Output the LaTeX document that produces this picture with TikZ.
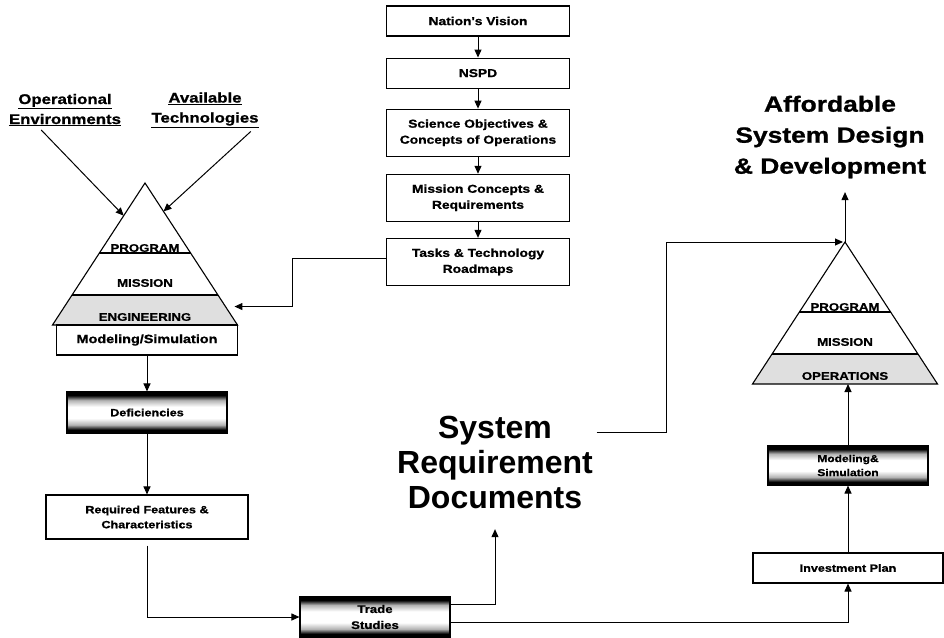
\documentclass[tikz,border=0pt]{standalone}
\usepackage{fontspec}
\setmainfont{Liberation Sans}
\newfontfamily\boxfont[FakeStretch=1.2,FakeBold=1]{Liberation Sans}
\usetikzlibrary{positioning,arrows.meta,calc}

\pgfdeclareverticalshading{tube}{100bp}{color(0bp)=(black); color(29bp)=(black); color(35bp)=(gray!60); color(43bp)=(white); color(57bp)=(white); color(65bp)=(gray!60); color(71bp)=(black); color(100bp)=(black)}

\begin{document}
\begin{tikzpicture}[x=1pt,y=-1pt,>={Triangle[length=8pt,width=7pt]},line width=1pt,node distance=17pt,
    box/.style={draw,line width=1.1pt,fill=white,align=center,inner sep=2pt,font=\boxfont\bfseries\fontsize{11.5}{16}\selectfont},
    tube/.style={box,shade,shading=tube},
    band/.style={font=\boxfont\bfseries\fontsize{11}{13}\selectfont},
    head/.style={align=center,font=\boxfont\bfseries\fontsize{14}{20}\selectfont}]
    \useasboundingbox (0,0) rectangle (944,637);

    % the two pyramids
    \coordinate (lptop) at (145,183);
    \coordinate (lpbl) at (52.5,325);
    \coordinate (lpbr) at (237.5,325);
    \coordinate (rptop) at (845,242);
    \coordinate (rpbl) at (752.5,384);
    \coordinate (rpbr) at (937.5,384);
    \foreach \px/\py/\base in {145/183/ENGINEERING, 845/242/OPERATIONS}{
        \begin{scope}[shift={(\px,\py)}]
            \fill[gray!25] (-73,112) -- (73,112) -- (92.5,142) -- (-92.5,142) -- cycle;
            \draw[line width=1.1pt] (0,0) -- (92.5,142) -- (-92.5,142) -- cycle;
            \draw[line width=1.1pt] (-45.6,70) -- (45.6,70) (-73,112) -- (73,112);
            \node[band] at (0,65) {PROGRAM};
            \node[band] at (0,100) {MISSION};
            \node[band] at (0,134) {\base};
        \end{scope}
    }

    % centre column
    \node[box,minimum width=183pt,minimum height=30pt] (nv) at (478,21) {Nation's Vision};
    \node[box,minimum width=183pt,minimum height=30pt,below=21pt of nv] (nspd) {NSPD};
    \node[box,minimum width=183pt,minimum height=47pt,below=20pt of nspd] (sci) {Science Objectives \&\\Concepts of Operations};
    \node[box,minimum width=183pt,minimum height=47pt,below=of sci] (mcr) {Mission Concepts \&\\Requirements};
    \node[box,minimum width=183pt,minimum height=47pt,below=16pt of mcr] (ttr) {Tasks \& Technology\\Roadmaps};

    % left side
    \node[head] (openv) at (65,110) {\underline{Operational}\\\underline{Environments}};
    \node[head] (avtech) at (205,110) {\underline{Available}\\\underline{Technologies}};
    \node[box,minimum width=181pt,minimum height=30pt,font=\boxfont\bfseries\fontsize{12}{14}\selectfont] (msim) at (147,340) {Modeling/Simulation};
    \node[tube,minimum width=160pt,minimum height=41pt,font=\boxfont\bfseries\fontsize{10.5}{14}\selectfont] (defc) at (147,412.5) {Deficiencies};
    \node[box,minimum width=202pt,minimum height=44pt,font=\boxfont\bfseries\fontsize{10.5}{15}\selectfont] (reqf) at (147,517) {Required Features \&\\Characteristics};
    \node[tube,minimum width=150pt,minimum height=40pt,font=\boxfont\bfseries\fontsize{11}{16}\selectfont] (trade) at (375,617) {Trade\\Studies};

    % middle and right side
    \node[align=center,font=\bfseries\fontsize{32}{35}\selectfont] (srd) at (495,462) {System\\Requirement\\Documents};
    \node[align=center,font=\boxfont\bfseries\fontsize{22}{31}\selectfont] (afd) at (830,137) {Affordable\\System Design\\\& Development};
    \node[tube,minimum width=160pt,minimum height=39pt,font=\boxfont\bfseries\fontsize{10}{14}\selectfont] (msr) at (848,465.5) {Modeling\&\\Simulation};
    \node[box,minimum width=190pt,minimum height=30pt,font=\boxfont\bfseries\fontsize{10.5}{14}\selectfont] (inv) at (848,568) {Investment Plan};

    % connectors
    \foreach \a/\b in {nv/nspd,nspd/sci,sci/mcr,mcr/ttr}
        \draw[->] (\a) -- (\b);
    \draw[->,shorten >=9pt] ([yshift=3pt]ttr.west) -- ++(-93,0) |- ($(lptop)!0.87!(lpbr)$);
    \draw[->] (openv.-140) -- ($(lptop)!0.23!(lpbl)$);
    \draw[->] (avtech.-25) -- ($(lptop)!0.2!(lpbr)$);
    \draw[->] (msim) -- (defc);
    \draw[->] (defc) -- (reqf);
    \draw[->,shorten <=6pt] (reqf.south) |- (trade.west);
    \draw[->,shorten >=17pt] ([yshift=13pt]trade.east) -| (srd.south);
    \draw[->] ([yshift=-5pt]trade.east) -| (inv.south);
    \draw[->] (inv) -- (msr);
    \draw[->] (msr.north) -- (msr.north |- rpbl);
    \draw[->,shorten >=2pt] ([yshift=30pt]srd.east) -- ++(70,0) |- (rptop);
    \draw[->,shorten >=10pt] (rptop) -- (rptop |- afd.south);
\end{tikzpicture}
\end{document}
